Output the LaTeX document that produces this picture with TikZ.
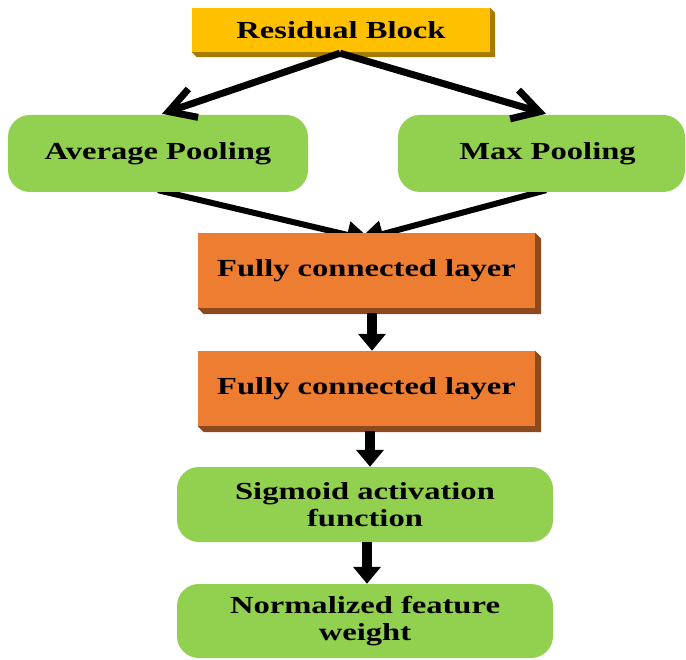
\documentclass[tikz,border=0pt]{standalone}
\usepackage{fontspec}
\setmainfont{Liberation Serif}[FakeStretch=1.33]
\usetikzlibrary{arrows.meta,calc}
\pgfdeclarelayer{bg}
\pgfsetlayers{bg,main}
\definecolor{gold}{HTML}{FFC000}
\definecolor{goldsh}{HTML}{A67C00}
\definecolor{orng}{HTML}{ED7D31}
\definecolor{orngsh}{HTML}{8C4A1E}
\definecolor{grn}{HTML}{92D050}
\begin{document}
\begin{tikzpicture}[x=1pt,y=-1pt,
  lbl/.style={font=\fontsize{24.5}{26.5}\selectfont\bfseries, text=black, align=center, inner sep=0pt},
  greenbox/.style={lbl, fill=grn, rounded corners=22pt},
  orangebox/.style={lbl, fill=orng, minimum width=337pt, minimum height=75pt},
  goldbox/.style={lbl, fill=gold, minimum width=298pt, minimum height=44pt},
  barb/.style={line width=7pt, -{Straight Barb[length=26pt,width=30pt]}},
  thin/.style={line width=6pt, -{Triangle[length=26pt,width=26pt]}},
  blockarrow/.style={line width=10pt, -{Triangle[length=17pt,width=27pt]}}]
\useasboundingbox (0,0) rectangle (686,660);

\node[goldbox] (res) at (341,30) {Residual Block};
\node[greenbox, minimum width=300pt, minimum height=77pt] (avg) at (158,153.5) {Average Pooling};
\node[greenbox, minimum width=287pt, minimum height=77pt] (max) at (541.5,153.5) {\hspace*{12pt}Max Pooling};
\node[orangebox] (fc1) at (366.5,270.5) {Fully connected layer};
\node[orangebox] (fc2) at (366.5,388.5) {Fully connected layer};
\node[greenbox, minimum width=376pt, minimum height=75pt] (sig) at (365,504.5) {Sigmoid activation\\function};
\node[greenbox, minimum width=376pt, minimum height=74pt] (norm) at (365,621) {Normalized feature\\weight};

\begin{pgfonlayer}{bg}
  \fill[white] (0,0) rectangle (686,660);
  \fill[goldsh] (res.north east) -- ++(5,5) -- ($(res.south east)+(5,5)$) -- ($(res.south west)+(5,5)$) -- (res.south west) -- cycle;
  \fill[orngsh] (fc1.north east) -- ++(6,6) -- ($(fc1.south east)+(6,6)$) -- ($(fc1.south west)+(6,6)$) -- (fc1.south west) -- cycle;
  \fill[orngsh] (fc2.north east) -- ++(6,6) -- ($(fc2.south east)+(6,6)$) -- ($(fc2.south west)+(6,6)$) -- (fc2.south west) -- cycle;
  \draw[thin] ($(avg.south)+(0,-2)$) -- ($(fc1.north)+(6,8)$);
  \draw[thin] ($(max.south)+(4.5,-2)$) -- ($(fc1.north)+(-9,8)$);
\end{pgfonlayer}

\draw[barb] ($(res.south)+(-1,1)$) -- ($(avg.north)+(4,-1)$);
\draw[barb] ($(res.south)+(-1,1)$) -- ($(max.north)+(4.5,-1)$);
\draw[blockarrow] ($(fc1.south)+(5.5,5)$) -- ($(fc2.north)+(5.5,0)$);
\draw[blockarrow] ($(fc2.south)+(3.5,5)$) -- ($(sig.north)+(5,0)$);
\draw[blockarrow] ($(sig.south)+(2,0)$) -- ($(norm.north)+(2,0)$);
\end{tikzpicture}
\end{document}
